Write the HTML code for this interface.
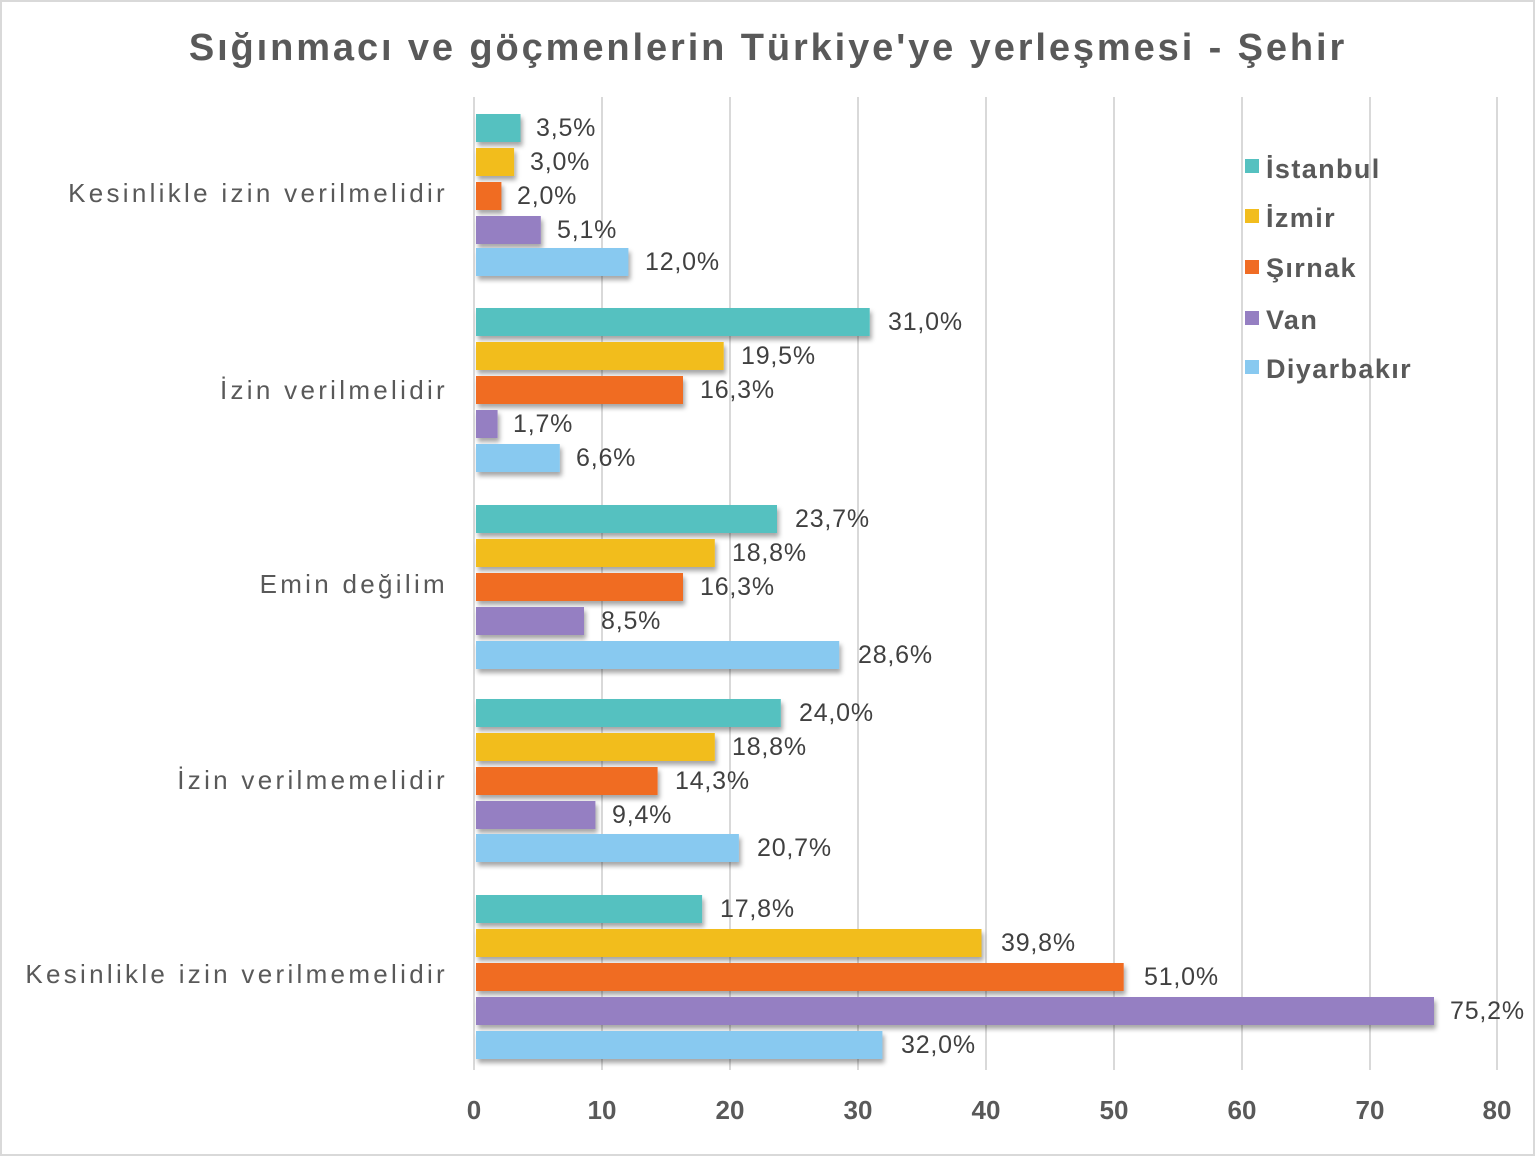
<!DOCTYPE html>
<html><head><meta charset="utf-8"><style>
html,body{margin:0;padding:0;background:#fff}
svg{display:block}
text{font-family:"Liberation Sans",sans-serif}
</style></head><body>
<svg width="1536" height="1158" viewBox="0 0 1536 1158" xmlns="http://www.w3.org/2000/svg">
<defs><filter id="sh" x="-5%" y="-30%" width="110%" height="180%"><feDropShadow dx="2" dy="4" stdDeviation="2.5" flood-color="#000" flood-opacity="0.35"/></filter></defs>
<rect x="1" y="1" width="1533" height="1154" fill="#fff" stroke="#d9d9d9" stroke-width="2"/>
<text x="768" y="60" text-anchor="middle" font-size="38" font-weight="bold" fill="#595959" letter-spacing="2.9">Sığınmacı ve göçmenlerin Türkiye'ye yerleşmesi - Şehir</text>
<g stroke="#d9d9d9" stroke-width="2">
<line x1="474" y1="97" x2="474" y2="1070"/><line x1="602" y1="97" x2="602" y2="1070"/><line x1="730" y1="97" x2="730" y2="1070"/><line x1="858" y1="97" x2="858" y2="1070"/><line x1="986" y1="97" x2="986" y2="1070"/><line x1="1114" y1="97" x2="1114" y2="1070"/><line x1="1242" y1="97" x2="1242" y2="1070"/><line x1="1370" y1="97" x2="1370" y2="1070"/><line x1="1497" y1="97" x2="1497" y2="1070"/>
</g>
<g font-size="26" font-weight="bold" fill="#595959" text-anchor="middle">
<text x="474" y="1119">0</text><text x="602" y="1119">10</text><text x="730" y="1119">20</text><text x="858" y="1119">30</text><text x="986" y="1119">40</text><text x="1114" y="1119">50</text><text x="1242" y="1119">60</text><text x="1370" y="1119">70</text><text x="1497" y="1119">80</text>
</g>
<g font-size="26" fill="#595959" text-anchor="end" letter-spacing="3.3">
<text x="448" y="202">Kesinlikle izin verilmelidir</text>
<text x="448" y="399">İzin verilmelidir</text>
<text x="448" y="593">Emin değilim</text>
<text x="448" y="789">İzin verilmemelidir</text>
<text x="448" y="983">Kesinlikle izin verilmemelidir</text>
</g>
<g filter="url(#sh)">
<rect x="476" y="114" width="44.5" height="28" fill="#55c1c0"/>
<rect x="476" y="148" width="38.1" height="28" fill="#f2bd1e"/>
<rect x="476" y="182" width="25.4" height="28" fill="#f06c24"/>
<rect x="476" y="216" width="64.8" height="28" fill="#957fc2"/>
<rect x="476" y="248" width="152.4" height="28" fill="#88c9f0"/>
<rect x="476" y="308" width="393.7" height="28" fill="#55c1c0"/>
<rect x="476" y="342" width="247.7" height="28" fill="#f2bd1e"/>
<rect x="476" y="376" width="207" height="28" fill="#f06c24"/>
<rect x="476" y="410" width="21.6" height="28" fill="#957fc2"/>
<rect x="476" y="444" width="83.8" height="28" fill="#88c9f0"/>
<rect x="476" y="505" width="301" height="28" fill="#55c1c0"/>
<rect x="476" y="539" width="238.8" height="28" fill="#f2bd1e"/>
<rect x="476" y="573" width="207" height="28" fill="#f06c24"/>
<rect x="476" y="607" width="108" height="28" fill="#957fc2"/>
<rect x="476" y="641" width="363.2" height="28" fill="#88c9f0"/>
<rect x="476" y="699" width="304.8" height="28" fill="#55c1c0"/>
<rect x="476" y="733" width="238.8" height="28" fill="#f2bd1e"/>
<rect x="476" y="767" width="181.6" height="28" fill="#f06c24"/>
<rect x="476" y="801" width="119.4" height="28" fill="#957fc2"/>
<rect x="476" y="834" width="262.9" height="28" fill="#88c9f0"/>
<rect x="476" y="895" width="226.1" height="28" fill="#55c1c0"/>
<rect x="476" y="929" width="505.5" height="28" fill="#f2bd1e"/>
<rect x="476" y="963" width="647.7" height="28" fill="#f06c24"/>
<rect x="476" y="997" width="958" height="28" fill="#957fc2"/>
<rect x="476" y="1031" width="406.4" height="28" fill="#88c9f0"/>
</g>
<g font-size="25" fill="#404040" dominant-baseline="central" letter-spacing="0.8">
<text x="536" y="128">3,5%</text><text x="530" y="162">3,0%</text><text x="517" y="196">2,0%</text><text x="557" y="230">5,1%</text><text x="645" y="262">12,0%</text>
<text x="888" y="322">31,0%</text><text x="741" y="356">19,5%</text><text x="700" y="390">16,3%</text><text x="513" y="424">1,7%</text><text x="576" y="458">6,6%</text>
<text x="795" y="519">23,7%</text><text x="732" y="553">18,8%</text><text x="700" y="587">16,3%</text><text x="601" y="621">8,5%</text><text x="858" y="655">28,6%</text>
<text x="799" y="713">24,0%</text><text x="732" y="747">18,8%</text><text x="675" y="781">14,3%</text><text x="612" y="815">9,4%</text><text x="757" y="848">20,7%</text>
<text x="720" y="909">17,8%</text><text x="1001" y="943">39,8%</text><text x="1144" y="977">51,0%</text><text x="1450" y="1011">75,2%</text><text x="901" y="1045">32,0%</text>
</g>
<g font-size="27" font-weight="bold" fill="#595959" letter-spacing="1.4">
<rect x="1245" y="159" width="14" height="14" fill="#55c1c0"/><text x="1266" y="178">İstanbul</text>
<rect x="1245" y="209" width="14" height="14" fill="#f2bd1e"/><text x="1266" y="227">İzmir</text>
<rect x="1245" y="260" width="14" height="14" fill="#f06c24"/><text x="1266" y="277">Şırnak</text>
<rect x="1245" y="311" width="14" height="14" fill="#957fc2"/><text x="1266" y="329">Van</text>
<rect x="1245" y="360" width="14" height="14" fill="#88c9f0"/><text x="1266" y="378">Diyarbakır</text>
</g>
</svg>
</body></html>
